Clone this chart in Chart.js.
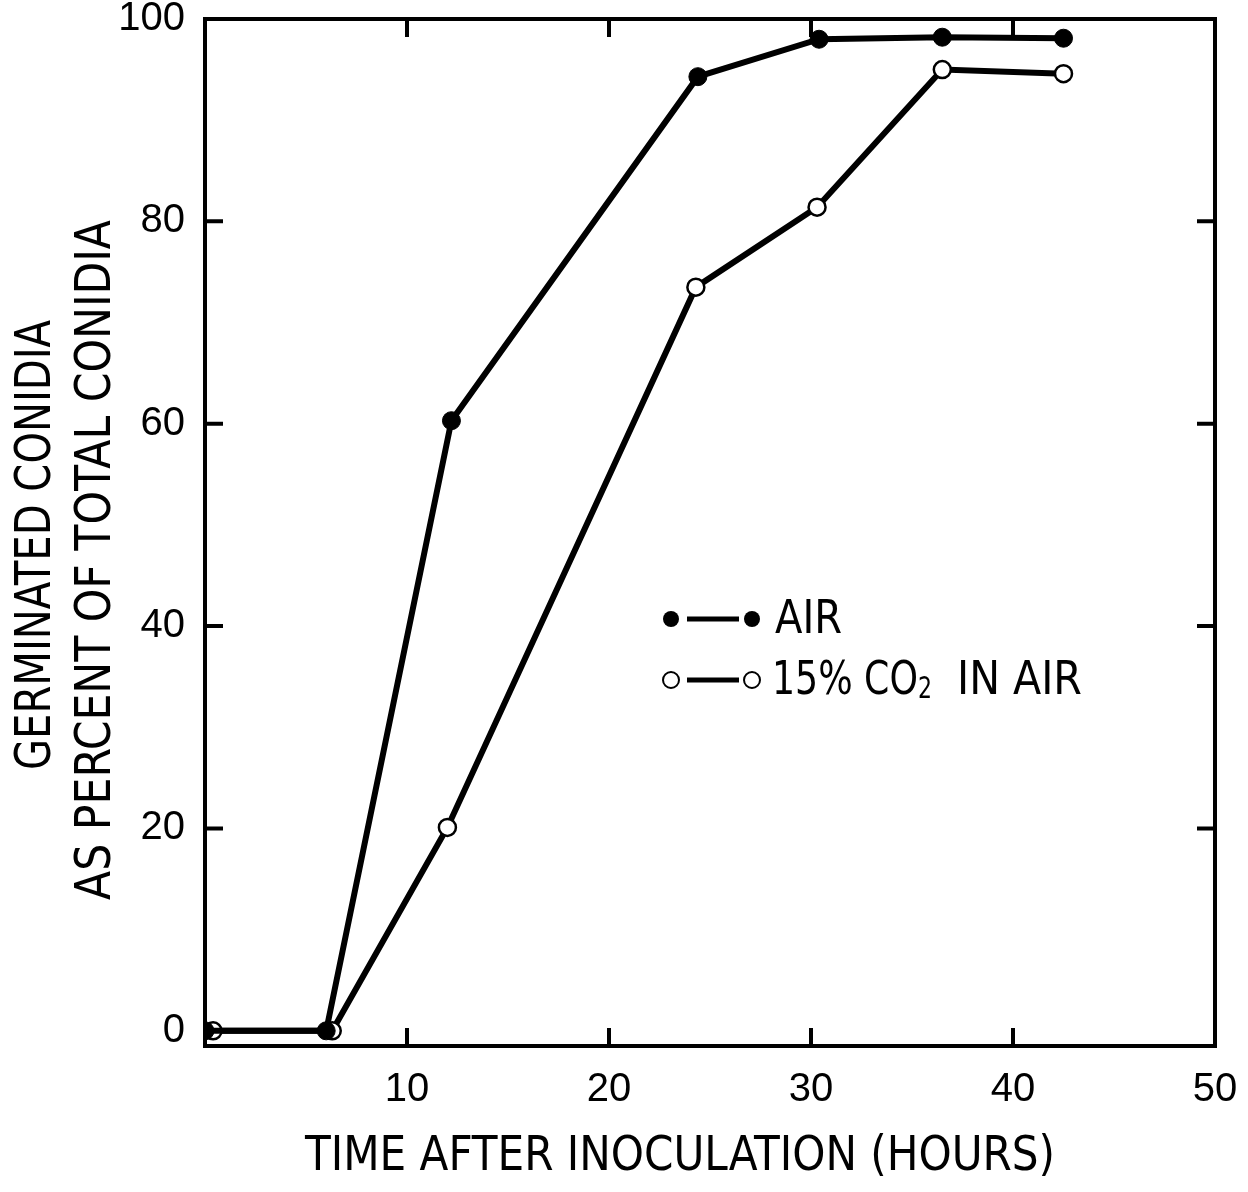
<!DOCTYPE html>
<html>
<head>
<meta charset="utf-8">
<script src="https://cdn.jsdelivr.net/npm/chart.js@4/dist/chart.umd.min.js"></script>
<style>
  html, body { margin: 0; padding: 0; background: #fff; }
  #wrap { width: 1248px; height: 1192px; }
</style>
</head>
<body>
<div id="wrap"><canvas id="germ" width="1248" height="1192"></canvas></div>
<script>
'use strict'

// values
var airTime = [0, 6, 12.2, 24.4, 30.4, 36.5, 42.5];
var airPct  = [0, 0, 60.3, 94.3, 98.0, 98.2, 98.1];
var co2Time = [0.4, 6.3, 12.0, 24.3, 30.3, 36.5, 42.5];
var co2Pct  = [0, 0, 20.1, 73.5, 81.4, 95.0, 94.6];

var xTicks = [10, 20, 30, 40, 50];
var yTicks = [0, 20, 40, 60, 80, 100];
var xTitle = 'TIME AFTER INOCULATION (HOURS)';
var yTitle = ['GERMINATED CONIDIA', 'AS PERCENT OF TOTAL CONIDIA'];
var legendAir = 'AIR';
var legendCo2 = ['15% CO', '2', 'IN AIR'];

var condensed = '"DejaVu Sans Condensed", "Liberation Sans Narrow", "DejaVu Sans", sans-serif';

function pts(xs, ys) {
  return xs.map(function (x, i) { return {x: x, y: ys[i]}; });
}

// draw text squeezed/stretched to a given width
function fitText(ctx, txt, x, y, w, size) {
  ctx.save();
  ctx.font = size + 'px ' + condensed;
  var m = ctx.measureText(txt).width;
  ctx.translate(x, y);
  ctx.scale(w / m, 1);
  ctx.textAlign = 'left';
  ctx.textBaseline = 'middle';
  ctx.fillText(txt, 0, 0);
  ctx.restore();
}

var framePlugin = {
  id: 'frame',
  afterDraw: function (chart) {
    var ctx = chart.ctx, a = chart.chartArea;
    var xs = chart.scales.x, ys = chart.scales.y;
    ctx.save();
    ctx.strokeStyle = '#000';
    ctx.fillStyle = '#000';
    ctx.lineWidth = 4;
    ctx.lineCap = 'square';
    ctx.strokeRect(a.left, a.top, a.right - a.left, a.bottom - a.top);
    ctx.lineCap = 'butt';
    var len = 18;
    [10, 20, 30, 40].forEach(function (v) {
      var px = xs.getPixelForValue(v);
      ctx.beginPath();
      ctx.moveTo(px, a.bottom); ctx.lineTo(px, a.bottom - len);
      ctx.moveTo(px, a.top); ctx.lineTo(px, a.top + len);
      ctx.stroke();
    });
    [20, 40, 60, 80].forEach(function (v) {
      var py = ys.getPixelForValue(v);
      ctx.beginPath();
      ctx.moveTo(a.left, py); ctx.lineTo(a.left + len, py);
      ctx.moveTo(a.right, py); ctx.lineTo(a.right - len, py);
      ctx.stroke();
    });

    // axis titles
    fitText(ctx, xTitle, 305, 1158, 750, 48);
    ctx.save();
    ctx.rotate(-Math.PI / 2);
    fitText(ctx, yTitle[0], -770, 37, 450, 50);
    fitText(ctx, yTitle[1], -900, 97, 680, 50);
    ctx.restore();

    // legend
    var rows = [619, 680];
    ctx.lineWidth = 5;
    rows.forEach(function (ry, i) {
      ctx.beginPath();
      ctx.moveTo(687, ry); ctx.lineTo(739, ry);
      ctx.stroke();
      [671, 752].forEach(function (mx) {
        ctx.beginPath();
        ctx.arc(mx, ry, 8, 0, Math.PI * 2);
        if (i === 0) { ctx.fill(); }
        else { ctx.save(); ctx.fillStyle = '#fff'; ctx.fill(); ctx.restore(); ctx.lineWidth = 2; ctx.stroke(); ctx.lineWidth = 5; }
      });
    });
    fitText(ctx, legendAir, 775, rows[0] + 2, 67, 46);
    fitText(ctx, legendCo2[0], 772, rows[1] + 2, 146, 46);
    fitText(ctx, legendCo2[1], 918, rows[1] + 10, 14, 30);
    fitText(ctx, legendCo2[2], 957, rows[1] + 2, 125, 46);
    ctx.restore();
  }
};

var ctx = document.getElementById('germ');
var mychart = new Chart(ctx, {
  type: 'line',
  data: {
    datasets: [{
      label: 'AIR',
      data: pts(airTime, airPct),
      borderColor: '#000',
      borderWidth: 6,
      backgroundColor: '#000',
      pointBackgroundColor: '#000',
      pointBorderColor: '#000',
      pointBorderWidth: 1,
      pointRadius: 9,
      tension: 0
    }, {
      label: '15% CO2 IN AIR',
      data: pts(co2Time, co2Pct),
      borderColor: '#000',
      borderWidth: 6,
      backgroundColor: '#fff',
      pointBackgroundColor: '#fff',
      pointBorderColor: '#000',
      pointBorderWidth: 2.5,
      pointRadius: 8.5,
      tension: 0
    }]
  },
  options: {
    responsive: false,
    animation: false,
    events: [],
    layout: { padding: { top: 19, right: 33, left: 0, bottom: 0 } },
    plugins: {
      legend: { display: false },
      tooltip: { enabled: false }
    },
    scales: {
      x: {
        type: 'linear',
        min: 0,
        max: 50,
        afterBuildTicks: function (s) { s.ticks = xTicks.map(function (v) { return {value: v}; }); },
        afterFit: function (s) { s.height = 146; s.paddingLeft = 0; s.paddingRight = 0; },
        grid: { display: false },
        border: { display: false },
        ticks: {
          color: '#000',
          padding: 12,
          maxRotation: 0,
          font: { family: '"Liberation Sans", Arial, sans-serif', size: 40 }
        }
      },
      y: {
        type: 'linear',
        min: -1.5,
        max: 100,
        afterBuildTicks: function (s) { s.ticks = yTicks.map(function (v) { return {value: v}; }); },
        afterFit: function (s) { s.width = 205; s.paddingTop = 0; s.paddingBottom = 0; },
        grid: { display: false },
        border: { display: false },
        ticks: {
          color: '#000',
          padding: 12,
          font: { family: '"Liberation Sans", Arial, sans-serif', size: 40 }
        }
      }
    }
  },
  plugins: [framePlugin]
});
</script>
</body>
</html>
